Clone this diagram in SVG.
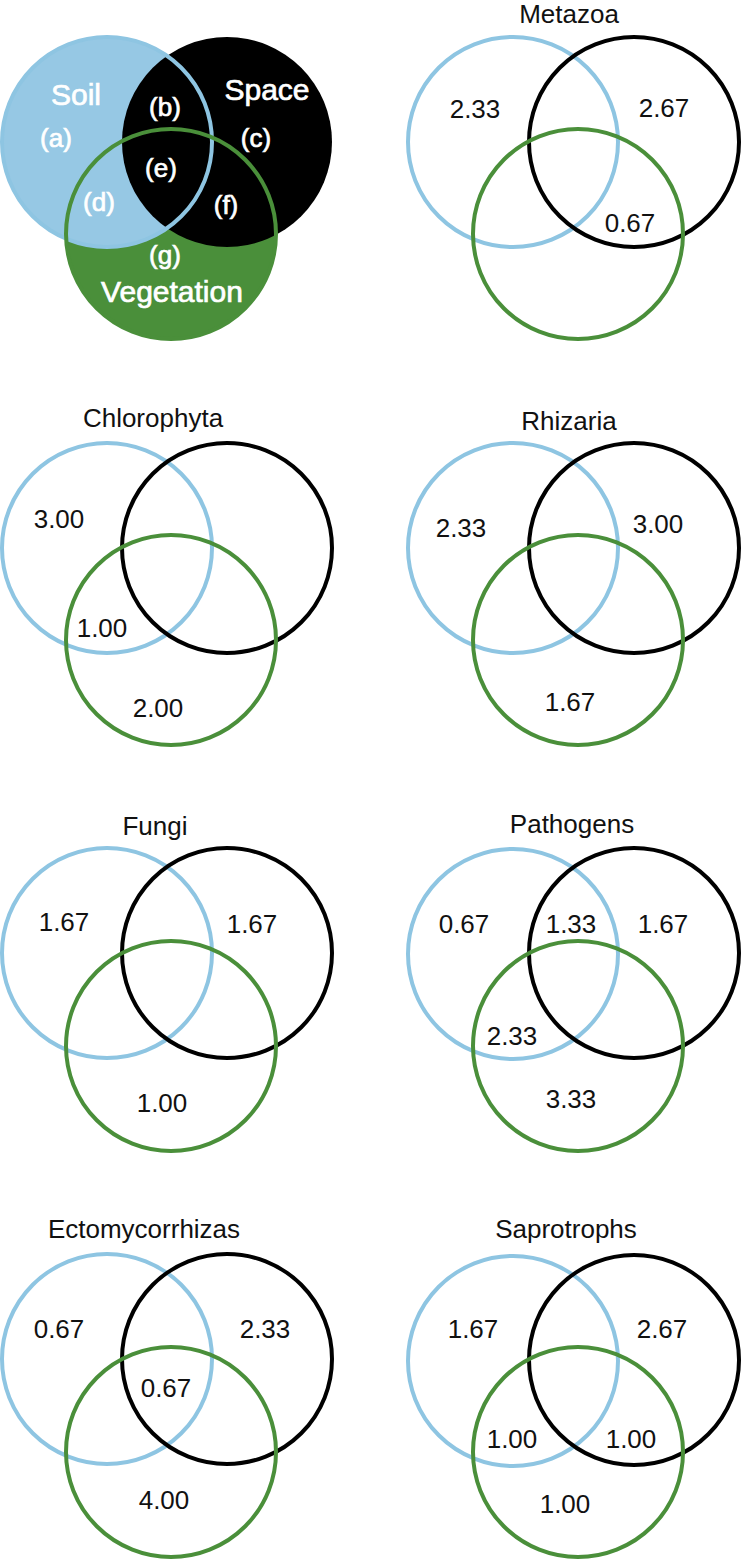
<svg xmlns="http://www.w3.org/2000/svg" width="741" height="1560" viewBox="0 0 741 1560">
<style>
.bl{fill:none;stroke:#8ec5e2;stroke-width:4}
.bk{fill:none;stroke:#000;stroke-width:4}
.gr{fill:none;stroke:#4a8f3a;stroke-width:4}
text{font-family:"Liberation Sans",Arial,Helvetica,sans-serif;text-anchor:middle;fill:#111}
.t{font-size:26px}
.n{font-size:26px}
.w{fill:#fff;stroke:#fff;stroke-width:0.7}
.big{font-size:30px}
.par{font-size:26px}
</style>
<rect width="741" height="1560" fill="#fff"/>
<g id="legend">
  <circle cx="171" cy="234" r="105" fill="#4a8f3a"/>
  <circle cx="107" cy="142" r="105" fill="#96c8e4"/>
  <circle cx="227" cy="142" r="105" fill="#000"/>
  <circle cx="107" cy="142" r="105" class="bl"/>
  <circle cx="171" cy="234" r="105" class="gr"/>
  <text class="w big" x="76" y="105">Soil</text>
  <text class="w big" x="267" y="100">Space</text>
  <text class="w big" x="172" y="302">Vegetation</text>
  <text class="w par" x="56" y="147">(a)</text>
  <text class="w par" x="165" y="116">(b)</text>
  <text class="w par" x="256" y="147">(c)</text>
  <text class="w par" x="99" y="211">(d)</text>
  <text class="w par" x="161" y="177">(e)</text>
  <text class="w par" x="226" y="214">(f)</text>
  <text class="w par" x="165" y="264">(g)</text>
</g>
<g id="metazoa">
  <circle cx="513" cy="142" r="105" class="bl"/>
  <circle cx="634" cy="142" r="105" class="bk"/>
  <circle cx="578" cy="234" r="105" class="gr"/>
  <text class="t" x="569" y="23">Metazoa</text>
  <text class="n" x="475" y="118">2.33</text>
  <text class="n" x="664" y="117">2.67</text>
  <text class="n" x="630" y="232">0.67</text>
</g>
<g id="chlorophyta">
  <circle cx="107" cy="548" r="105" class="bl"/>
  <circle cx="227" cy="548" r="105" class="bk"/>
  <circle cx="171" cy="640" r="105" class="gr"/>
  <text class="t" x="153" y="427">Chlorophyta</text>
  <text class="n" x="59" y="528">3.00</text>
  <text class="n" x="102" y="637">1.00</text>
  <text class="n" x="158" y="717">2.00</text>
</g>
<g id="rhizaria">
  <circle cx="513" cy="548" r="105" class="bl"/>
  <circle cx="634" cy="548" r="105" class="bk"/>
  <circle cx="578" cy="640" r="105" class="gr"/>
  <text class="t" x="569" y="430">Rhizaria</text>
  <text class="n" x="461" y="537">2.33</text>
  <text class="n" x="658" y="533">3.00</text>
  <text class="n" x="570" y="711">1.67</text>
</g>
<g id="fungi">
  <circle cx="107" cy="953" r="105" class="bl"/>
  <circle cx="227" cy="953" r="105" class="bk"/>
  <circle cx="171" cy="1046" r="105" class="gr"/>
  <text class="t" x="155" y="835">Fungi</text>
  <text class="n" x="64" y="931">1.67</text>
  <text class="n" x="252" y="933">1.67</text>
  <text class="n" x="162" y="1112">1.00</text>
</g>
<g id="pathogens">
  <circle cx="513" cy="954" r="105" class="bl"/>
  <circle cx="634" cy="953" r="105" class="bk"/>
  <circle cx="578" cy="1046" r="105" class="gr"/>
  <text class="t" x="572" y="833">Pathogens</text>
  <text class="n" x="464" y="933">0.67</text>
  <text class="n" x="571" y="933">1.33</text>
  <text class="n" x="663" y="933">1.67</text>
  <text class="n" x="512" y="1045">2.33</text>
  <text class="n" x="571" y="1108">3.33</text>
</g>
<g id="ectomycorrhizas">
  <circle cx="107" cy="1359" r="105" class="bl"/>
  <circle cx="227" cy="1359" r="105" class="bk"/>
  <circle cx="171" cy="1452" r="105" class="gr"/>
  <text class="t" x="144" y="1238">Ectomycorrhizas</text>
  <text class="n" x="59" y="1338">0.67</text>
  <text class="n" x="265" y="1338">2.33</text>
  <text class="n" x="166" y="1397">0.67</text>
  <text class="n" x="164" y="1509">4.00</text>
</g>
<g id="saprotrophs">
  <circle cx="513" cy="1361" r="105" class="bl"/>
  <circle cx="634" cy="1360" r="105" class="bk"/>
  <circle cx="578" cy="1452" r="105" class="gr"/>
  <text class="t" x="566" y="1238">Saprotrophs</text>
  <text class="n" x="473" y="1338">1.67</text>
  <text class="n" x="662" y="1338">2.67</text>
  <text class="n" x="512" y="1448">1.00</text>
  <text class="n" x="631" y="1448">1.00</text>
  <text class="n" x="565" y="1513">1.00</text>
</g>
</svg>
